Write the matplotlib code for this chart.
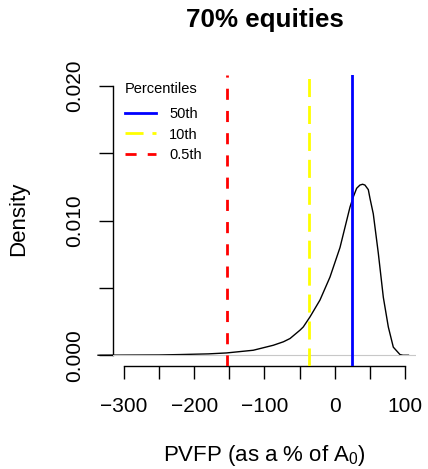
import numpy as np
import matplotlib
matplotlib.use("Agg")
import matplotlib.pyplot as plt
from matplotlib.lines import Line2D
from matplotlib.ticker import FuncFormatter, MultipleLocator

plt.rcParams['font.family'] = ['Liberation Sans', 'DejaVu Sans']
plt.rcParams['mathtext.fontset'] = 'custom'
plt.rcParams['mathtext.rm'] = 'Liberation Sans'
plt.rcParams['mathtext.it'] = 'Liberation Sans'

# density estimate of PVFP
pvfp = [-337, -300, -250, -220, -180, -154, -116, -87.5, -73, -63.7, -49.5, -44.8,
        -35.2, -21, -6.8, 7.5, 21.7, 26.5, 31.2, 35.9, 39.7, 43, 47.8, 50.2, 54.9,
        62, 69.2, 76.3, 83.4, 92.9, 97, 105]
dens = [0, 0.00001, 0.00002, 0.00005, 0.0001, 0.00017, 0.00037, 0.00074, 0.001,
        0.00124, 0.00186, 0.0021, 0.00285, 0.0041, 0.0058, 0.0080, 0.0110, 0.01177,
        0.0124, 0.01264, 0.0127, 0.01264, 0.0123, 0.01165, 0.0105, 0.0076, 0.0043,
        0.0021, 0.0006, 0.00005, 0, 0]

# percentiles
pct_labels = ['50th', '10th', '0.5th']
pct_values = [25, -36, -153]
pct_colors = ['blue', 'yellow', 'red']
pct_dashes = [None, (6.5, 3.2), (4, 4)]

W, H = 428, 469
fig = plt.figure(figsize=(W / 100, H / 100), dpi=100)
ax = fig.add_axes([112.8 / W, 1 - 366 / H, (416.2 - 112.8) / W, (366 - 75.2) / H])
ax.set_xlim(-316, 116)
ax.set_ylim(-0.0008, 0.0208)

ax.plot(pvfp, dens, color='black', lw=1.0, clip_on=False, zorder=2)
ax.axhline(0, color='#c8c8c8', lw=0.8, zorder=3)

handles = []
for lab, v, c, d in zip(pct_labels, pct_values, pct_colors, pct_dashes):
    ln = ax.axvline(v, color=c, lw=2.0, zorder=4)
    if d is not None:
        ln.set_dashes(d)
    h = Line2D([], [], color=c, lw=2.0)
    if d is not None:
        h.set_dashes(d)
    handles.append(h)

leg = ax.legend(handles, pct_labels, loc='upper left',
                bbox_to_anchor=(125 / W, 1 - 107 / H), bbox_transform=fig.transFigure,
                frameon=False, fontsize=10.5,
                handlelength=2.1, handletextpad=0.93, labelspacing=0.45,
                borderpad=0, borderaxespad=0)
fig.text(125 / W, 1 - 89.3 / H, 'Percentiles', ha='left', va='center', fontsize=10.5)

# axes in R style
for s in ['top', 'right']:
    ax.spines[s].set_visible(False)
ax.spines['left'].set_bounds(0, 0.02)
ax.spines['bottom'].set_bounds(-300, 100)
ax.xaxis.set_major_locator(MultipleLocator(50))
ax.yaxis.set_major_locator(MultipleLocator(0.005))
ax.xaxis.set_major_formatter(FuncFormatter(
    lambda x, p: (f"{int(round(x))}".replace('-', '\u2212') if round(x) % 100 == 0 else '')))
ax.yaxis.set_major_formatter(FuncFormatter(
    lambda y, p: (f"{y:.3f}" if round(y * 1000) % 10 == 0 else '')))
ax.tick_params(axis='x', length=9.5, width=1.0, labelsize=15, pad=12.5)
ax.tick_params(axis='y', length=10, width=1.0, labelsize=15, pad=10.5, labelrotation=90)
for t in ax.get_yticklabels():
    t.set_va('center')
for s in ['left', 'bottom']:
    ax.spines[s].set_linewidth(1.0)

fig.text(264.5 / W, 1 - 20 / H, '70% equities', ha='center', va='center',
         fontsize=18.7, fontweight='bold')
fig.text(19 / W, 1 - 218.4 / H, 'Density', rotation=90, ha='center', va='center',
         fontsize=16)
fig.text(264.5 / W, 1 - 461 / H, 'PVFP (as a % of A$_0$)', ha='center', va='baseline',
         fontsize=16)

fig.savefig('out.png', dpi=100)
